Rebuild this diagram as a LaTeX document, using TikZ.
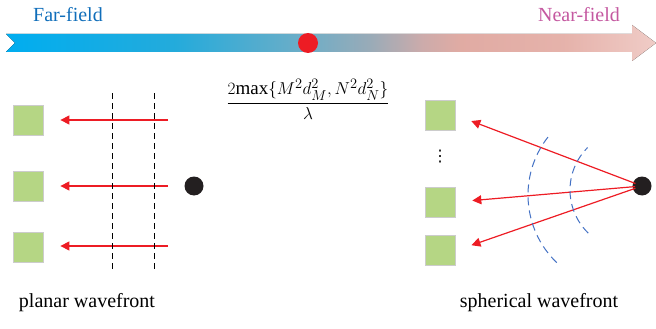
\documentclass[tikz,border=0pt]{standalone}
\usepackage{amsmath}
\usepackage{fontspec}
\setmainfont{Liberation Serif}
\newfontfamily\symfont{DejaVu Sans}
\usetikzlibrary{positioning,arrows.meta}
\definecolor{farblue}{RGB}{16,110,186}
\definecolor{nearpink}{RGB}{196,88,160}
\definecolor{rayred}{RGB}{237,28,36}
\definecolor{elemgreen}{RGB}{181,214,132}
\definecolor{arcblue}{RGB}{68,114,196}
\definecolor{srcblack}{RGB}{35,31,32}
\pgfdeclarehorizontalshading{fieldshade}{100bp}{rgb(0bp)=(0,0.68,0.94); rgb(25bp)=(0,0.68,0.94); rgb(38bp)=(0.14,0.67,0.86); rgb(48bp)=(0.43,0.68,0.78); rgb(53bp)=(0.6,0.67,0.72); rgb(57bp)=(0.8,0.67,0.67); rgb(60bp)=(0.88,0.67,0.64); rgb(68bp)=(0.9,0.7,0.67); rgb(75bp)=(0.94,0.8,0.78); rgb(100bp)=(0.94,0.8,0.78)}

\begin{document}
\begin{tikzpicture}[x=1pt, y=-1pt, font=\fontsize{20}{22}\selectfont,
  elem/.style={draw=black!20, line width=0.8pt, fill=elemgreen, minimum size=30pt, inner sep=0pt},
  dot/.style={circle, fill=srcblack, minimum size=19pt, inner sep=0pt},
  ray/.style={draw=rayred, line width=1.2pt, -{Triangle[length=9pt,width=9pt]}},
  plane/.style={draw=black, line width=0.9pt, dash pattern=on 6pt off 4pt},
  sphere/.style={draw=arcblue, line width=1pt, dash pattern=on 8pt off 5pt}]
  \useasboundingbox (0,0) rectangle (656,329);
  % distance axis
  \fill[shading=fieldshade] (6,34) -- (632,34) -- (632,25) -- (656,43) -- (632,61)
    -- (632,52) -- (6,52) -- (15,43) -- cycle;
  \node[circle, fill=rayred, minimum size=20pt, inner sep=0pt] (border) at (308,43) {};
  \node[text=farblue] (far) at (68,15) {Far-field};
  \node[text=nearpink] (near) at (579,15) {Near-field};
  \node[font=\fontsize{19}{21}\selectfont] (rayleigh) at (308,99)
    {$\dfrac{2\mathrm{max}\{M^2d_M^2, N^2d_N^2\}}{\lambda}$};
  % far field: planar wavefront
  \node[elem] (l1) at (28,120) {};
  \node[elem, below=36pt of l1] (l2) {};
  \node[elem, below=30pt of l2] (l3) {};
  \node[dot] (lsrc) at (194,186) {};
  \foreach \i/\y in {1/120,2/186,3/246} {
    \coordinate (lp\i) at (168,\y);
    \draw[ray, shorten >=17pt] (lp\i) -- (l\i.east |- lp\i);
  }
  \draw[plane] (112,93) -- (112,272);
  \draw[plane] (154,93) -- (154,272);
  \node (planar) at (87,303) {planar wavefront};
  % near field: spherical wavefront
  \node[elem] (r1) at (440,115) {};
  \node[elem] (r2) at (440,202) {};
  \node[elem, below=18pt of r2] (r3) {};
  \node[font=\symfont\fontsize{16}{18}\selectfont] (rdots) at (440,157) {⋮};
  \node[dot] (rsrc) at (642,186) {};
  \foreach \i in {1,2,3}
    \draw[ray, shorten <=7pt, shorten >=17pt] (rsrc.center) -- (r\i.east);
  \draw[sphere] (622,195) ++(134:94) arc[start angle=134, end angle=218, radius=94];
  \draw[sphere] (630,190) ++(134:60) arc[start angle=134, end angle=225, radius=60];
  \node (spherical) at (539,303) {spherical wavefront};
\end{tikzpicture}
\end{document}
